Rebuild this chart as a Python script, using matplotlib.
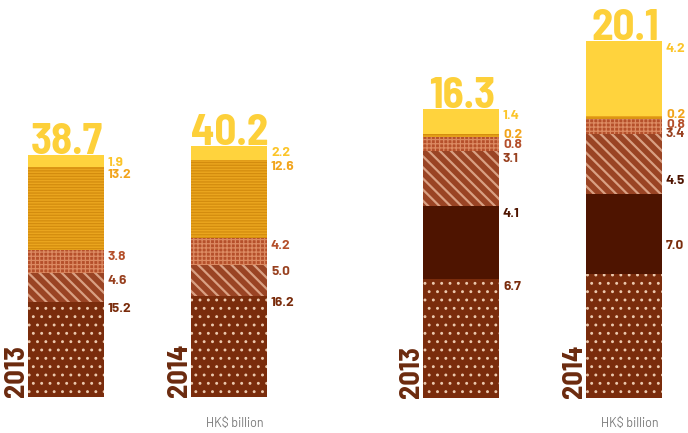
import matplotlib.pyplot as plt

# -------------------------------------------------
# Data (HK$ billion), stacked bottom -> top
# -------------------------------------------------
years = ["2013", "2014"]

left_vals = [
    [15.2, 16.2],   # dotted
    [4.6, 5.0],     # diagonal
    [3.8, 4.2],     # grid
    [13.2, 12.6],   # horizontal lines
    [1.9, 2.2],     # yellow
]
left_totals = [38.7, 40.2]

right_vals = [
    [6.7, 7.0],     # dotted
    [4.1, 4.5],     # dark solid
    [3.1, 3.4],     # diagonal
    [0.8, 0.8],     # grid
    [0.2, 0.2],     # horizontal lines
    [1.4, 4.2],     # yellow
]
right_totals = [16.3, 20.1]

unit_label = "HK$ billion"

# -------------------------------------------------
# Styles
# -------------------------------------------------
STYLES = {
    "dots":  dict(fc="#7a2c0c", hc="#ecc9ae", hatch="..",     lc="#7a2c0c", lw=0.9),
    "dark":  dict(fc="#4e1400", hc="#4e1400", hatch=None,     lc="#4e1400", lw=0.9),
    "diag":  dict(fc="#9a4424", hc="#d9a083", hatch="\\\\\\", lc="#98401f", lw=1.6),
    "grid":  dict(fc="#b5502b", hc="#dc8a62", hatch="++++",   lc="#b5502b", lw=0.9),
    "horiz": dict(fc="#eaa51e", hc="#d38c0e", hatch="------", lc="#f2a41c", lw=0.9),
    "yell":  dict(fc="#ffd33d", hc="#ffd33d", hatch=None,     lc="#fcc52a", lw=0.9),
}
left_kinds = ["dots", "diag", "grid", "horiz", "yell"]
right_kinds = ["dots", "dark", "diag", "grid", "horiz", "yell"]

BIG_FONT = ["Barlow Semi Condensed", "DejaVu Sans"]
LBL_FONT = ["Barlow", "DejaVu Sans"]
TOTAL_COLOR = "#fdd03a"
YEAR_COLOR = "#6b2a0e"

W, H = 688, 433
BAR_W = 0.465
SPACING = 163.0           # px between bar centres
LABEL_GAP = 9.5           # min px between stacked value labels

fig = plt.figure(figsize=(W / 100, H / 100), dpi=100)


def draw_group(ax, vals, kinds, totals, ppu, nudges=None):
    xs = [0, 1]
    for j, x in enumerate(xs):
        bottom = 0.0
        label_px = []
        for i, kind in enumerate(kinds):
            v = vals[i][j]
            st = STYLES[kind]
            with plt.rc_context({"hatch.linewidth": st["lw"]}):
                ax.bar(x, v, bottom=bottom, width=BAR_W, color=st["fc"],
                       edgecolor=st["hc"], hatch=st["hatch"], linewidth=0)
            bottom += v
            # label centre in px above the baseline, just under segment top
            y = bottom * ppu - 6
            if nudges is not None:
                y += nudges[j][i]
            label_px.append(y)
        # keep labels from overlapping (push upper ones up)
        for i in range(1, len(label_px)):
            if label_px[i] - label_px[i - 1] < LABEL_GAP:
                label_px[i] = label_px[i - 1] + LABEL_GAP
        for i, kind in enumerate(kinds):
            ax.text(x + BAR_W / 2 + 4 / SPACING, label_px[i] / ppu,
                    f"{vals[i][j]:.1f}", ha="left", va="center_baseline",
                    fontsize=9.8, fontweight="bold", family=LBL_FONT,
                    color=STYLES[kind]["lc"])
        # total on top
        ax.annotate(f"{totals[j]:.1f}", (x, totals[j]), xytext=(1, 1),
                    textcoords="offset pixels", ha="center", va="baseline",
                    fontsize=31, fontweight="bold", family=BIG_FONT,
                    color=TOTAL_COLOR)
        # year, rotated, hugging the bar's left side
        ax.annotate(years[j], (x - BAR_W / 2, 0), xytext=(1, 0),
                    textcoords="offset pixels", rotation=90, ha="right",
                    va="bottom", fontsize=20.5, fontweight="bold",
                    family=BIG_FONT, color=YEAR_COLOR)
    ax.annotate(unit_label, (1, 0), xytext=(6, -26), textcoords="offset pixels",
                ha="center", va="center", fontsize=9, color="#7a7a7a",
                family=LBL_FONT)
    ax.set_axis_off()


# left panel
ppu_l = 6.25
axl = fig.add_axes([0, 36 / H, 344 / W, 397 / H])
axl.set_xlim(-66 / SPACING, (344 - 66) / SPACING)
axl.set_ylim(0, 397 / ppu_l)
draw_group(axl, left_vals, left_kinds, left_totals, ppu_l)

# right panel
ppu_r = 17.75
axr = fig.add_axes([344 / W, 35 / H, 344 / W, 398 / H])
axr.set_xlim((344 - 461) / SPACING, (688 - 461) / SPACING)
axr.set_ylim(0, 398 / ppu_r)
nudge_r = [[0, 0, 0, 0, 0, 0], [35, 20, 7, 0, 0, 0]]
draw_group(axr, right_vals, right_kinds, right_totals, ppu_r, nudge_r)

fig.savefig("out.png", dpi=100)
